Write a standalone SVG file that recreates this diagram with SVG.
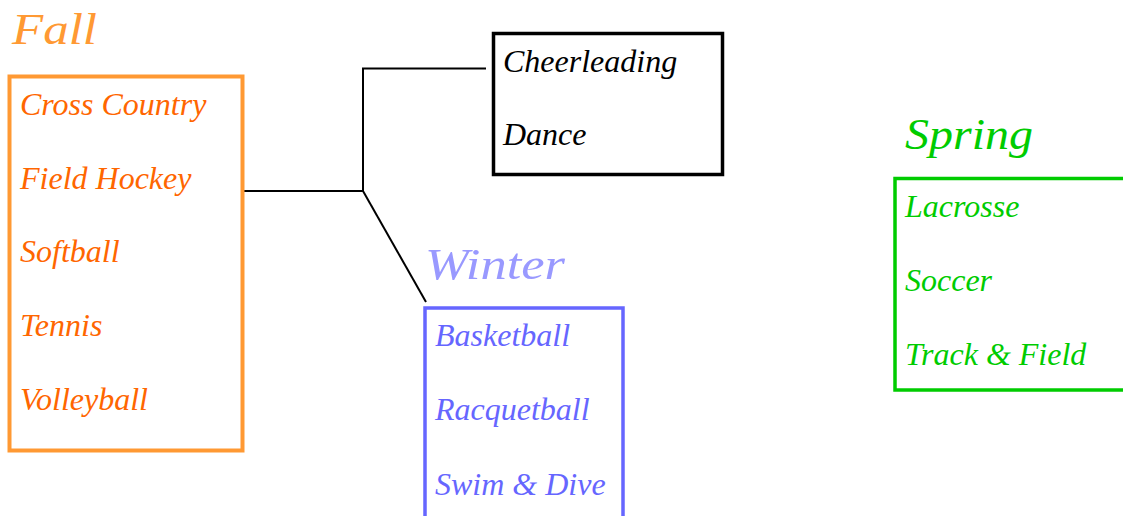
<svg xmlns="http://www.w3.org/2000/svg" width="1123" height="516" viewBox="0 0 1123 516">
<style>
  .item { font-family: 'Liberation Serif', 'DejaVu Serif', serif; font-style: italic; font-size: 32px; }
  .title { font-family: 'Liberation Serif', 'DejaVu Serif', serif; font-style: italic; font-weight: normal; font-size: 44px; }
  .box { fill: #ffffff; }
  .conn { fill: none; stroke: #000000; stroke-width: 2; }
</style>
<rect width="1123" height="516" fill="#ffffff"/>
<g id="connectors">
  <polyline class="conn" points="243,191 363,191 363,68.5 486,68.5"/>
  <line class="conn" x1="363" y1="191" x2="426" y2="302"/>
</g>
<g id="fall">
  <text class="title" x="12" y="44" fill="#ff9933" textLength="85" lengthAdjust="spacingAndGlyphs">Fall</text>
  <rect class="box" x="9.5" y="76.5" width="233" height="374" stroke="#ff9933" stroke-width="4"/>
  <text class="item" x="20" y="115" fill="#ff6600">Cross Country</text>
  <text class="item" x="20" y="189" fill="#ff6600">Field Hockey</text>
  <text class="item" x="20" y="262" fill="#ff6600">Softball</text>
  <text class="item" x="20" y="335.5" fill="#ff6600">Tennis</text>
  <text class="item" x="20" y="409.5" fill="#ff6600">Volleyball</text>
</g>
<g id="other">
  <rect class="box" x="493.5" y="33.5" width="229" height="141" stroke="#000000" stroke-width="3.5"/>
  <text class="item" x="503" y="72" fill="#000000">Cheerleading</text>
  <text class="item" x="503" y="145" fill="#000000">Dance</text>
</g>
<g id="winter">
  <text class="title" x="425" y="279" fill="#9999ff" textLength="140" lengthAdjust="spacingAndGlyphs">Winter</text>
  <rect class="box" x="425" y="308" width="198" height="240" stroke="#6666ff" stroke-width="3.5"/>
  <text class="item" x="435" y="346" fill="#6666ff">Basketball</text>
  <text class="item" x="435" y="420" fill="#6666ff">Racquetball</text>
  <text class="item" x="435" y="495" fill="#6666ff">Swim &amp; Dive</text>
</g>
<g id="spring">
  <text class="title" x="905" y="149" fill="#00cc00" textLength="128" lengthAdjust="spacingAndGlyphs">Spring</text>
  <rect class="box" x="895" y="178.5" width="260" height="211.5" stroke="#00cc00" stroke-width="3.5"/>
  <text class="item" x="905" y="216.5" fill="#00cc00">Lacrosse</text>
  <text class="item" x="905" y="290.5" fill="#00cc00">Soccer</text>
  <text class="item" x="905" y="365" fill="#00cc00">Track &amp; Field</text>
</g>
</svg>
